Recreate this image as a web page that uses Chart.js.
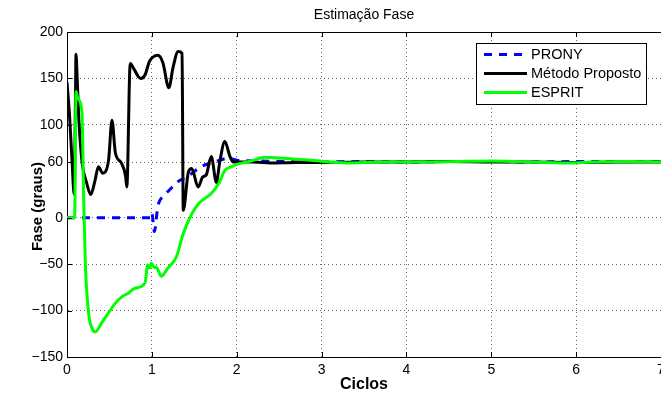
<!DOCTYPE html>
<html>
<head>
<meta charset="utf-8">
<script src="https://cdn.jsdelivr.net/npm/chart.js@4.4.0/dist/chart.umd.min.js"></script>
<style>
  html, body { margin: 0; padding: 0; background: #fff; overflow: hidden; }
  #grafico { display: block; }
</style>
</head>
<body>
<canvas id="grafico" width="661" height="399"></canvas>
<script>
// eixos
const xTicks = [0, 1, 2, 3, 4, 5, 6, 7];
const yTicks = [-150, -100, -50, 0, 60, 100, 150, 200];

// PRONY
const pronyX = [0, 0.99, 1.0, 1.03, 1.07, 1.15, 1.23, 1.31, 1.43, 1.58, 1.74, 1.9, 2.0, 2.3, 2.6, 3.0, 3.5, 4.0, 4.5, 5.0, 5.5, 6.0, 6.5, 7.0];
const pronyY = [0, 0, 5, -15, 12, 24, 32, 39, 45, 55, 60, 64, 62, 61, 60.5, 60, 60.5, 60, 60.5, 60.5, 60, 60.5, 60.5, 60.5];

// Método Proposto
const metodoX = [0, 0.03, 0.06, 0.085, 0.1, 0.106, 0.12, 0.14, 0.18, 0.23, 0.28, 0.33, 0.37, 0.42, 0.49, 0.53, 0.57, 0.64, 0.69, 0.705, 0.745, 0.79, 0.84, 0.87, 0.92, 0.97, 1.0, 1.07, 1.13, 1.2, 1.25, 1.31, 1.356, 1.37, 1.43, 1.47, 1.545, 1.6, 1.64, 1.7, 1.76, 1.8, 1.86, 1.92, 1.96, 2.0, 2.2, 2.4, 2.7, 3.0, 3.5, 4.0, 4.5, 5.0, 5.5, 6.0, 6.5, 7.0];
const metodoY = [146, 110, 60, 25, 130, 176, 150, 105, 58, 38, 25, 40, 55, 48, 62, 105, 70, 59, 45, 33, 166, 160, 152, 150, 154, 168, 172, 175, 167, 140, 162, 179, 177, 8, 49, 53, 33, 44, 46, 66, 38, 60, 82, 66, 60, 60, 60, 59, 59.5, 59.5, 60, 60, 60.5, 60, 60, 59.5, 60, 60];

// ESPRIT
const espritX = [0, 0.09, 0.106, 0.13, 0.176, 0.196, 0.216, 0.255, 0.3, 0.333, 0.41, 0.5, 0.57, 0.65, 0.726, 0.8, 0.92, 0.95, 0.976, 0.995, 1.03, 1.05, 1.11, 1.19, 1.29, 1.37, 1.47, 1.56, 1.7, 1.79, 1.86, 1.94, 2.02, 2.17, 2.33, 2.55, 2.9, 3.3, 3.7, 4.2, 4.6, 5.0, 5.3, 5.9, 6.2, 6.6, 7.0];
const espritY = [0, 0, 136, 128, 114, 23, -49, -103, -120, -123, -113, -101, -92, -85, -81, -76, -70, -51, -54, -49, -54, -53, -63, -54, -42, -17, 4, 16, 26, 37, 51, 55, 58, 61, 65, 64, 61.5, 59, 60, 60, 60.5, 61, 60.5, 59, 60, 60.5, 60];

const FONTE = '"Liberation Sans", Arial, sans-serif';

function pontos(xs, ys) {
    return xs.map((x, i) => ({ x: x, y: ys[i] }));
}

// moldura superior e marcas de escala para dentro (estilo matlab)
const moldura = {
    id: 'moldura',
    afterDatasetsDraw(chart) {
        const { ctx, chartArea, scales } = chart;
        ctx.save();
        ctx.strokeStyle = '#000';
        ctx.lineWidth = 1;
        ctx.beginPath();
        ctx.moveTo(chartArea.left, chartArea.top + 0.5);
        ctx.lineTo(chartArea.right, chartArea.top + 0.5);
        xTicks.forEach(v => {
            const px = Math.round(scales.x.getPixelForValue(v)) + 0.5;
            ctx.moveTo(px, chartArea.bottom);
            ctx.lineTo(px, chartArea.bottom - 5);
            ctx.moveTo(px, chartArea.top);
            ctx.lineTo(px, chartArea.top + 5);
        });
        yTicks.forEach(v => {
            const py = Math.round(scales.y.getPixelForValue(v)) + 0.5;
            ctx.moveTo(chartArea.left, py);
            ctx.lineTo(chartArea.left + 5, py);
        });
        ctx.stroke();

        // titulo do eixo y
        ctx.fillStyle = '#000';
        ctx.font = 'bold 15px ' + FONTE;
        ctx.textAlign = 'center';
        ctx.textBaseline = 'middle';
        ctx.translate(38, (chartArea.top + chartArea.bottom) / 2 + 12);
        ctx.rotate(-Math.PI / 2);
        ctx.fillText('Fase (graus)', 0, 0);
        ctx.restore();
    }
};

// legenda dentro da area do grafico
const legenda = {
    id: 'legenda',
    afterDraw(chart) {
        const { ctx, chartArea } = chart;
        const datasets = chart.data.datasets;
        ctx.save();
        ctx.font = '14.5px ' + FONTE;
        const textW = Math.max(...datasets.map(d => ctx.measureText(d.label).width));
        const w = Math.round(8 + 43 + 4 + textW + 5);
        const h = 61;
        const x = Math.round(chartArea.right - 15 - w);
        const y = Math.round(chartArea.top + 11);
        ctx.fillStyle = '#fff';
        ctx.fillRect(x, y, w, h);
        ctx.strokeStyle = '#000';
        ctx.lineWidth = 1;
        ctx.strokeRect(x + 0.5, y + 0.5, w, h);
        datasets.forEach((d, i) => {
            const ly = y + 11.5 + i * 19;
            ctx.strokeStyle = d.borderColor;
            ctx.lineWidth = d.borderWidth;
            ctx.setLineDash(d.borderDash || []);
            ctx.beginPath();
            ctx.moveTo(x + 8, ly);
            ctx.lineTo(x + 51, ly);
            ctx.stroke();
            ctx.setLineDash([]);
            ctx.fillStyle = '#000';
            ctx.textAlign = 'left';
            ctx.textBaseline = 'middle';
            ctx.fillText(d.label, x + 55, ly);
        });
        ctx.restore();
    }
};

const ctx = document.getElementById('grafico').getContext('2d');
new Chart(ctx, {
    type: 'line',
    data: {
        datasets: [
            {
                label: 'PRONY',
                data: pontos(pronyX, pronyY),
                borderColor: '#0000ff',
                borderWidth: 3,
                borderDash: [8, 7],
                order: 3
            },
            {
                label: 'Método Proposto',
                data: pontos(metodoX, metodoY),
                borderColor: '#000000',
                borderWidth: 3,
                order: 2
            },
            {
                label: 'ESPRIT',
                data: pontos(espritX, espritY),
                borderColor: '#00ff00',
                borderWidth: 3,
                order: 1
            }
        ]
    },
    options: {
        responsive: false,
        animation: false,
        devicePixelRatio: 1,
        layout: { padding: 0 },
        elements: {
            point: { radius: 0 },
            line: { cubicInterpolationMode: 'monotone', fill: false, borderCapStyle: 'butt' }
        },
        plugins: {
            legend: { display: false },
            tooltip: { enabled: false },
            title: {
                display: true,
                fullSize: false,
                text: 'Estimação Fase',
                color: '#000',
                font: { family: FONTE, size: 14, weight: 'normal' },
                padding: { top: 7, bottom: 8.2 }
            }
        },
        scales: {
            x: {
                type: 'linear',
                min: 0,
                max: 7,
                afterBuildTicks: s => { s.ticks = xTicks.map(v => ({ value: v })); },
                afterFit: s => { s.height = 42; s.paddingLeft = 0; s.paddingRight = 0; },
                ticks: {
                    color: '#000',
                    padding: 5,
                    maxRotation: 0,
                    font: { family: FONTE, size: 14 }
                },
                grid: { color: 'rgba(0,0,0,0.6)', lineWidth: 1, drawTicks: false },
                border: { display: true, color: '#000', width: 1, dash: [1, 3] },
                title: {
                    display: true,
                    text: 'Ciclos',
                    color: '#000',
                    font: { family: FONTE, size: 16, weight: 'bold' },
                    padding: { top: 0, bottom: 5 }
                }
            },
            y: {
                type: 'linear',
                min: -150,
                max: 200,
                afterBuildTicks: s => { s.ticks = yTicks.map(v => ({ value: v })); },
                afterFit: s => { s.width = 67; s.paddingTop = 0; s.paddingBottom = 0; },
                ticks: {
                    color: '#000',
                    padding: 4,
                    font: { family: FONTE, size: 14 },
                    callback: v => v < 0 ? '\u2212' + Math.abs(v) : String(v)
                },
                grid: { color: 'rgba(0,0,0,0.6)', lineWidth: 1, drawTicks: false },
                border: { display: true, color: '#000', width: 1, dash: [1, 3] }
            }
        }
    },
    plugins: [moldura, legenda]
});
</script>
</body>
</html>
